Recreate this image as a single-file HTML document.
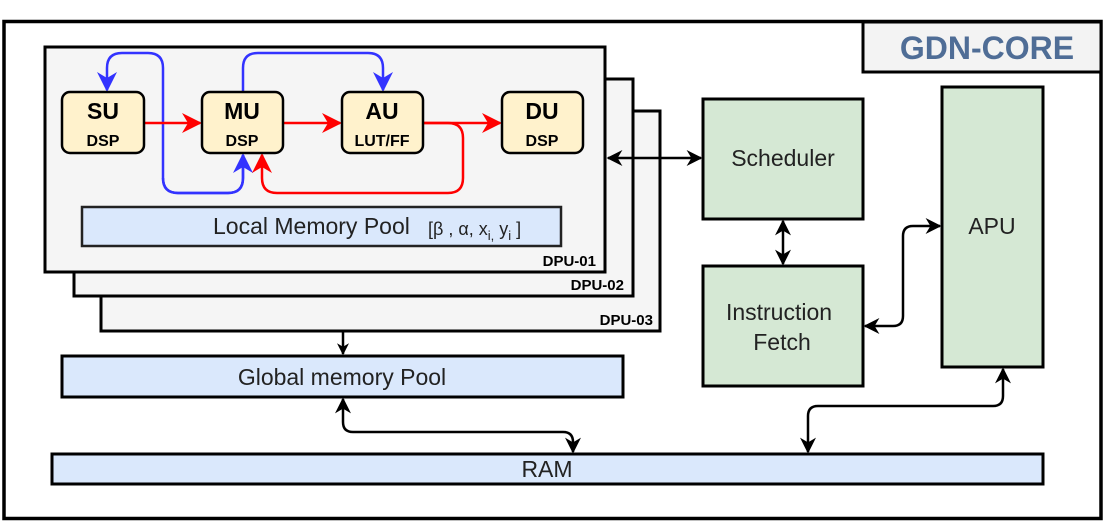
<!DOCTYPE html>
<html><head><meta charset="utf-8"><style>
body{margin:0;width:1106px;height:522px;background:#fff;overflow:hidden}
svg{display:block}
text{font-family:"Liberation Sans",sans-serif}
</style></head><body>
<svg width="1106" height="522" viewBox="0 0 1106 522" xmlns="http://www.w3.org/2000/svg">
<defs>
<marker id="ak" viewBox="0 0 10 10" refX="9" refY="5" markerWidth="12" markerHeight="12" orient="auto-start-reverse" markerUnits="userSpaceOnUse"><path d="M0,0 L10,5 L0,10 L3,5z" fill="#000"/></marker>
<marker id="akb" viewBox="0 0 10 10" refX="9" refY="5" markerWidth="16" markerHeight="16" orient="auto-start-reverse" markerUnits="userSpaceOnUse"><path d="M0,0 L10,5 L0,10 L3,5z" fill="#000"/></marker>
<marker id="ab" viewBox="0 0 10 10" refX="9" refY="5" markerWidth="20" markerHeight="20" orient="auto" markerUnits="userSpaceOnUse"><path d="M0,0 L10,5 L0,10 L3,5z" fill="#3333ff"/></marker>
<marker id="ar" viewBox="0 0 10 10" refX="9" refY="5" markerWidth="20" markerHeight="20" orient="auto" markerUnits="userSpaceOnUse"><path d="M0,0 L10,5 L0,10 L3,5z" fill="#ff0000"/></marker>
</defs>
<rect x="4" y="21.5" width="1097" height="497" fill="#fff" stroke="#000" stroke-width="3.5"/>
<rect x="863" y="22" width="238" height="50" fill="#f3f3f3" stroke="#000" stroke-width="3"/>
<text x="987" y="59" text-anchor="middle" font-size="32" font-weight="bold" fill="#4f6d96">GDN-CORE</text>

<rect x="101" y="111" width="559" height="220" fill="#f5f5f5" stroke="#000" stroke-width="3"/>
<text x="653" y="325" text-anchor="end" font-size="15" font-weight="bold">DPU-03</text>
<rect x="74" y="79" width="559" height="217" fill="#f5f5f5" stroke="#000" stroke-width="3"/>
<text x="624" y="290" text-anchor="end" font-size="15" font-weight="bold">DPU-02</text>
<rect x="45" y="47" width="560" height="225" fill="#f5f5f5" stroke="#000" stroke-width="3"/>
<text x="596" y="266" text-anchor="end" font-size="15" font-weight="bold">DPU-01</text>

<rect x="82" y="207" width="479" height="39" fill="#dae8fc" stroke="#222" stroke-width="2.5"/>
<text x="213" y="234" font-size="23" fill="#222">Local Memory Pool</text>
<text x="428" y="235" font-size="18" fill="#222">[β , α, x<tspan font-size="13" dy="5">i,</tspan><tspan dy="-5"> y</tspan><tspan font-size="13" dy="5">i</tspan><tspan dy="-5"> ]</tspan></text>

<!-- blue -->
<path d="M243 155 V178 Q243 193 228 193 H178 Q163 193 163 178 V68 Q163 53 148 53 H122 Q107 53 107 68 V90" fill="none" stroke="#3333ff" stroke-width="2.5" marker-end="url(#ab)"/>
<path d="M163 178 Q163 193 178 193 H228 Q243 193 243 178 V155" fill="none" stroke="#3333ff" stroke-width="2.5" marker-end="url(#ab)"/>
<path d="M243 92 V68 Q243 53 258 53 H368 Q383 53 383 68 V90" fill="none" stroke="#3333ff" stroke-width="2.5" marker-end="url(#ab)"/>
<!-- red -->
<path d="M144 123 H200" stroke="#ff0000" stroke-width="2.5" marker-end="url(#ar)"/>
<path d="M283 123 H340" stroke="#ff0000" stroke-width="2.5" marker-end="url(#ar)"/>
<path d="M423 123 H500" stroke="#ff0000" stroke-width="2.5" marker-end="url(#ar)"/>
<path d="M423 123 H448 Q463 123 463 138 V178 Q463 193 448 193 H277 Q262 193 262 178 V155" fill="none" stroke="#ff0000" stroke-width="2.5" marker-end="url(#ar)"/>

<g stroke="#000" stroke-width="2.5">
<rect x="62" y="92" width="82" height="61" rx="8" fill="#fff2cc"/>
<rect x="202" y="92" width="81" height="61" rx="8" fill="#fff2cc"/>
<rect x="342" y="92" width="81" height="61" rx="8" fill="#fff2cc"/>
<rect x="502" y="92" width="81" height="61" rx="8" fill="#fff2cc"/>
</g>
<g font-weight="bold" text-anchor="middle">
<text x="103" y="119" font-size="23">SU</text><text x="103" y="146" font-size="16">DSP</text>
<text x="242" y="119" font-size="23">MU</text><text x="242" y="146" font-size="16">DSP</text>
<text x="382" y="119" font-size="23">AU</text><text x="382" y="146" font-size="16">LUT/FF</text>
<text x="542" y="119" font-size="23">DU</text><text x="542" y="146" font-size="16">DSP</text>
</g>

<g stroke="#000" stroke-width="3">
<rect x="703" y="99" width="160" height="120" fill="#d5e8d4"/>
<rect x="703" y="266" width="160" height="120" fill="#d5e8d4"/>
<rect x="942" y="87" width="101" height="280" fill="#d5e8d4"/>
<rect x="62" y="356" width="561" height="41" fill="#dae8fc"/>
<rect x="52" y="454" width="991" height="30" fill="#dae8fc"/>
</g>
<g font-size="23" fill="#222" text-anchor="middle">
<text x="783" y="166">Scheduler</text>
<text x="779" y="320">Instruction</text><text x="782" y="350">Fetch</text>
<text x="992" y="234">APU</text>
<text x="342" y="385">Global memory Pool</text>
<text x="547" y="477">RAM</text>
</g>

<g fill="none" stroke="#000" stroke-width="2.5">
<path d="M608 158 H701" marker-start="url(#akb)" marker-end="url(#akb)"/>
<path d="M783 221 V264" marker-start="url(#akb)" marker-end="url(#akb)"/>
<path d="M865 326 H893 Q903 326 903 316 V236 Q903 226 913 226 H940" marker-start="url(#akb)" marker-end="url(#akb)"/>
<path d="M1003 369 V396 Q1003 406 993 406 H818 Q808 406 808 416 V452" marker-start="url(#akb)" marker-end="url(#akb)"/>
<path d="M343 399 V422 Q343 432 353 432 H563 Q573 432 573 442 V452" marker-start="url(#akb)" marker-end="url(#akb)"/>
<path d="M343 332 V354" marker-end="url(#ak)"/>
</g>
</svg>
</body></html>
